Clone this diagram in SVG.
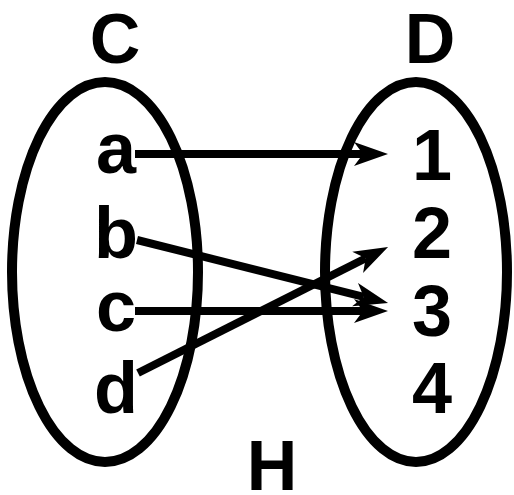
<svg xmlns="http://www.w3.org/2000/svg" width="514" height="495" viewBox="0 0 514 495">
<defs>
<style>
.set{fill:none;stroke:#000;stroke-width:10}
.lbl{font-family:"Liberation Sans",Arial,sans-serif;font-weight:bold;font-size:70px;fill:#000;text-anchor:middle}
.el{font-family:"Liberation Sans",Arial,sans-serif;font-weight:bold;font-size:72px;fill:#000;text-anchor:middle}
.arr{stroke:#000;stroke-width:8;fill:none;marker-end:url(#ah)}
</style>
<marker id="ah" markerUnits="userSpaceOnUse" viewBox="-12 -14 40 28" markerWidth="40" markerHeight="28" refX="0" refY="0" orient="auto">
<path d="M25,0 L-9,-12 L0,0 L-9,12 Z" fill="#000"/>
</marker>
</defs>
<rect width="514" height="495" fill="#fff"/>
<g id="setC">
<ellipse class="set" cx="105" cy="272" rx="93" ry="190"/>
<text class="lbl" x="115" y="63">C</text>
</g>
<g id="setD">
<ellipse class="set" cx="416" cy="272" rx="91" ry="190"/>
<text class="lbl" x="430" y="63">D</text>
</g>
<g id="a"><text class="el" x="116" y="173">a</text></g>
<g id="b"><text class="el" x="116" y="258">b</text></g>
<g id="c"><text class="el" x="116" y="331">c</text></g>
<g id="d"><text class="el" x="116" y="413">d</text></g>
<g id="n1"><text class="el" x="432" y="180">1</text></g>
<g id="n2"><text class="el" x="432" y="258">2</text></g>
<g id="n3"><text class="el" x="432" y="336">3</text></g>
<g id="n4"><text class="el" x="432" y="413">4</text></g>
<g id="H"><text class="lbl" x="272" y="490">H</text></g>
<g id="connectors">
<line class="arr" x1="135" y1="154" x2="363" y2="154"/>
<line class="arr" x1="137" y1="240" x2="363.8" y2="296.9"/>
<line class="arr" x1="135" y1="311" x2="363" y2="311"/>
<line class="arr" x1="138" y1="373" x2="365.7" y2="258.3"/>
</g>
</svg>
